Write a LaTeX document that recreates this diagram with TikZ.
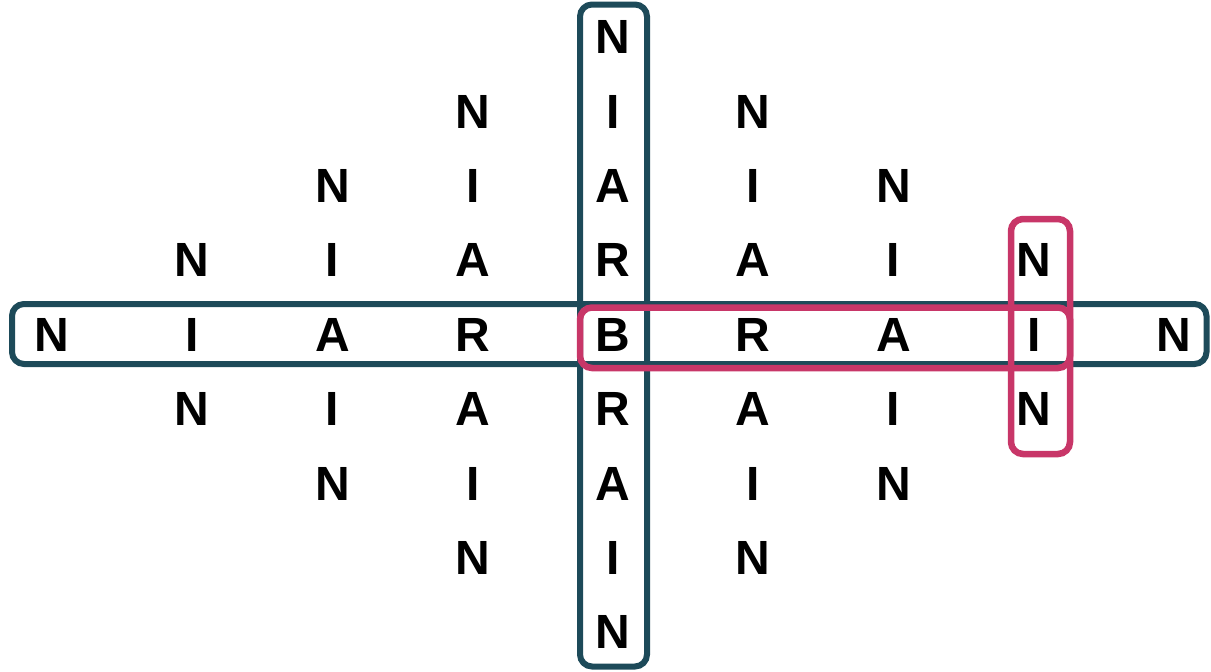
\documentclass[tikz,border=0pt]{standalone}
\usepackage{fontspec}
\setmainfont{Liberation Sans}
\definecolor{boxdark}{RGB}{29,74,89}
\definecolor{boxpink}{RGB}{200,54,104}
\begin{document}
\begin{tikzpicture}[x=1pt,y=-1pt,
  letter/.style={font=\fontsize{48}{48}\selectfont\bfseries, inner sep=0pt, text height=34.4pt, text depth=0pt},
  darkbox/.style={draw=boxdark, line width=6pt, rounded corners=12pt},
  pinkbox/.style={draw=boxpink, line width=6.5pt, rounded corners=12pt}]
\useasboundingbox (0,0) rectangle (1211,672);
% boxes
\draw[darkbox] (580,4.5) rectangle (647,666.5);
\draw[darkbox] (12,304) rectangle (1206.5,364);
\draw[pinkbox] (580,307.5) rectangle (1070,368);
\draw[pinkbox] (1011,219) rectangle (1070,454);
% letters
\foreach \r in {0,...,8}{
  \foreach \c in {0,...,8}{
    \pgfmathtruncatemacro\d{abs(\r-4)+abs(\c-4)}
    \pgfmathsetmacro\px{52+140.25*\c}
    \pgfmathsetmacro\py{36.4+74.4*\r}
    \ifnum\d<5
      \node[letter] (l-\r-\c) at (\px,\py) {\ifcase\d B\or R\or A\or I\or N\fi};
    \fi
  }
}
\end{tikzpicture}
\end{document}
